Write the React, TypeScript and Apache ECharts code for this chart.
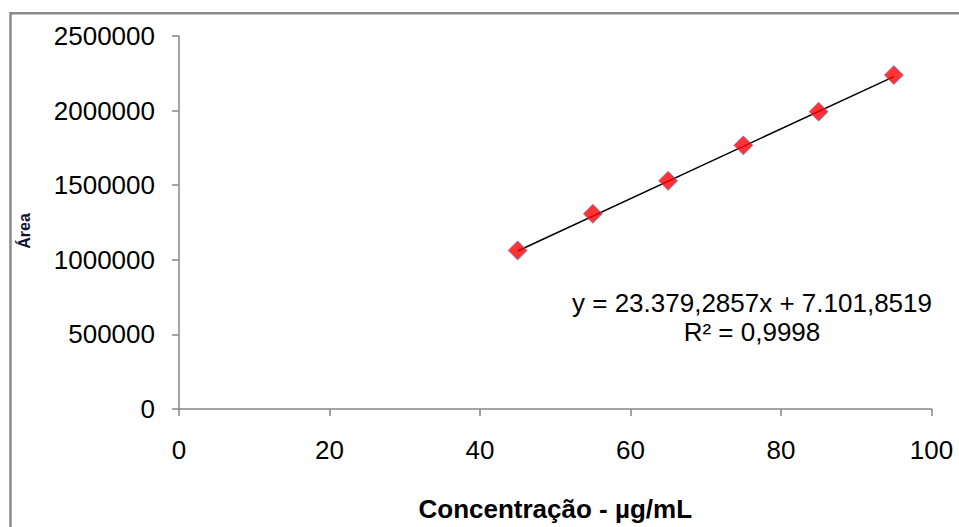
import React, { useEffect, useRef } from "react";
import * as echarts from "echarts";

const concentrations = [45, 55, 65, 75, 85, 95];
const areas = [1063000, 1308000, 1529000, 1767000, 1993000, 2238000];
const slope = 23379.2857;
const intercept = 7101.8519;
const equationLine = "y = 23.379,2857x + 7.101,8519";
const r2Line = "R² = 0,9998";
const xTitle = "Concentração - µg/mL";
const yTitle = "Área";
const xRange = [0, 100, 20];
const yRange = [0, 2500000, 500000];

const FONT = "'Liberation Sans', Arial, sans-serif";

export default function App() {
  const ref = useRef<HTMLDivElement>(null);
  useEffect(() => {
    if (!ref.current) return;
    const chart = echarts.init(ref.current, null, { renderer: "svg" });
    const trendX = [concentrations[0], concentrations[concentrations.length - 1]];
    const trend = trendX.map((x) => [x, slope * x + intercept]);
    chart.setOption({
      animation: false,
      backgroundColor: "#ffffff",
      textStyle: { fontFamily: FONT },
      grid: { left: 179, right: 27.5, top: 36, bottom: 110, containLabel: false },
      xAxis: {
        type: "value",
        min: xRange[0],
        max: xRange[1],
        interval: xRange[2],
        name: xTitle,
        nameLocation: "middle",
        nameGap: 87,
        nameTextStyle: { fontFamily: FONT, fontSize: 26, fontWeight: "bold", color: "#000" },
        axisLine: { show: true, lineStyle: { color: "#868686", width: 1.5 } },
        axisTick: { show: true, length: 7, lineStyle: { color: "#868686", width: 1.5 } },
        axisLabel: { color: "#000", fontSize: 26, fontFamily: FONT, margin: 28 },
        splitLine: { show: false },
      },
      yAxis: {
        type: "value",
        min: yRange[0],
        max: yRange[1],
        interval: yRange[2],
        axisLine: { show: true, lineStyle: { color: "#868686", width: 1.5 } },
        axisTick: { show: true, length: 7, lineStyle: { color: "#868686", width: 1.5 } },
        axisLabel: {
          color: "#000",
          fontSize: 26,
          fontFamily: FONT,
          margin: 24,
          formatter: (v: number) => String(v),
        },
        splitLine: { show: false },
      },
      graphic: [
        {
          type: "rect",
          shape: { x: 10.5, y: 13.3, width: 1200, height: 800 },
          style: { fill: "none", stroke: "#8a8a8a", lineWidth: 2.5 },
          silent: true,
        },
        {
          type: "text",
          x: 24,
          y: 231,
          rotation: Math.PI / 2,
          style: {
            text: yTitle,
            fontFamily: FONT,
            fontSize: 16,
            fontWeight: "bold",
            fill: "#111133",
            align: "center",
            verticalAlign: "middle",
          },
        },
        {
          type: "text",
          x: 752,
          y: 303,
          style: {
            text: equationLine,
            fontFamily: FONT,
            fontSize: 26,
            fill: "#000",
            align: "center",
            verticalAlign: "middle",
          },
        },
        {
          type: "text",
          x: 752,
          y: 332,
          style: {
            text: r2Line,
            fontFamily: FONT,
            fontSize: 26,
            fill: "#000",
            align: "center",
            verticalAlign: "middle",
          },
        },
      ],
      series: [
        {
          type: "line",
          data: trend,
          symbol: "none",
          lineStyle: { color: "#000", width: 1.5 },
          z: 2,
        },
        {
          type: "scatter",
          data: concentrations.map((x, i) => [x, areas[i]]),
          symbol: "diamond",
          symbolSize: 19,
          itemStyle: { color: "#ff0000", borderColor: "#7a7ab8", borderWidth: 1 },
          z: 3,
        },
      ],
    });
    return () => chart.dispose();
  }, []);
  return (
    <div
      ref={ref}
      style={{ position: "fixed", left: 0, top: 0, width: 959, height: 527 }}
    />
  );
}
